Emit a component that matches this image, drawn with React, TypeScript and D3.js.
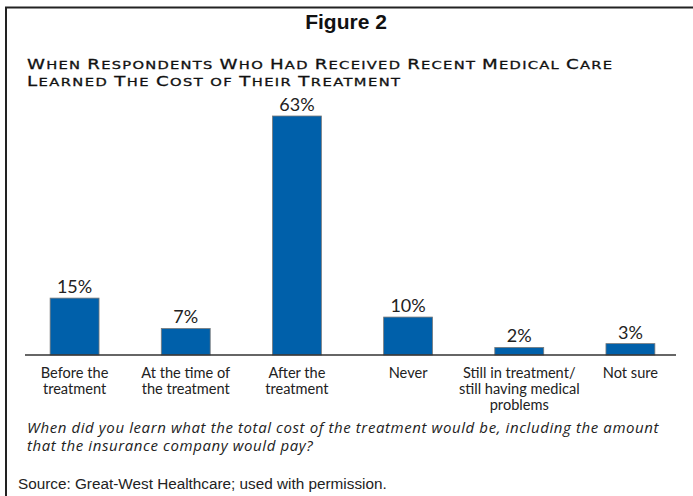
import React from "react";
import * as d3 from "d3";

const categories: string[][] = [
  ["Before the", "treatment"],
  ["At the time of", "the treatment"],
  ["After the", "treatment"],
  ["Never"],
  ["Still in treatment/", "still having medical", "problems"],
  ["Not sure"],
];
const values: number[] = [15, 7, 63, 10, 2, 3];
const valueLabels: string[] = ["15%", "7%", "63%", "10%", "2%", "3%"];
const subtitleLines: string[] = [
  "When Respondents Who Had Received Recent Medical Care",
  "Learned The Cost of Their Treatment",
];
const questionLines: string[] = [
  "When did you learn what the total cost of the treatment would be, including the amount",
  "that the insurance company would pay?",
];

const W = 693;
const H = 496;
const baseY = 355;

function smallCaps(s: string, big: number, small: number) {
  const out: React.ReactNode[] = [];
  let buf = "";
  let bufBig = false;
  const flush = (k: number) => {
    if (buf) {
      out.push(
        <tspan key={k} fontSize={bufBig ? big : small}>
          {buf.toUpperCase()}
        </tspan>
      );
    }
    buf = "";
  };
  for (let i = 0; i < s.length; i++) {
    const c = s[i];
    const isBig = c !== " " && c === c.toUpperCase() && c !== c.toLowerCase();
    const kind = c === " " ? bufBig : isBig;
    if (buf && kind !== bufBig) flush(i);
    bufBig = kind;
    buf += c;
  }
  flush(s.length + 1);
  return out;
}

const SX = 1.3;

export default function App() {
  const x = d3
    .scaleBand<number>()
    .domain(values.map((_, i) => i))
    .range([19, 686])
    .paddingInner(0.56)
    .paddingOuter(0.28);
  const y = d3.scaleLinear().domain([0, 63]).range([baseY, 116]);
  const labelFont = "Lato, 'Open Sans', sans-serif";

  return (
    <svg
      width={W}
      height={H}
      style={{ position: "absolute", left: 0, top: 0, background: "#fff", display: "block" }}
    >
      <rect x={0} y={0} width={W} height={H} fill="#fff" />
      {/* frame */}
      <line x1={5} y1={7.5} x2={W} y2={7.5} stroke="#222" strokeWidth={2} />
      <line x1={6} y1={7} x2={6} y2={H} stroke="#222" strokeWidth={2} />

      <text
        x={346}
        y={29}
        textAnchor="middle"
        fontFamily="'Liberation Sans', Arial, sans-serif"
        fontWeight="bold"
        fontSize={21}
        fill="#111"
      >
        Figure 2
      </text>

      <g transform={`scale(${SX},1)`}>
        <text
          x={27 / SX}
          y={69}
          fontFamily="'DejaVu Sans', sans-serif"
          fill="#111"
          textLength={585 / SX}
          lengthAdjust="spacing"
          stroke="#111"
          strokeWidth={0.3}
        >
          {smallCaps(subtitleLines[0], 14, 11.3)}
        </text>
        <text
          x={27 / SX}
          y={86}
          fontFamily="'DejaVu Sans', sans-serif"
          fill="#111"
          textLength={373 / SX}
          lengthAdjust="spacing"
          stroke="#111"
          strokeWidth={0.3}
        >
          {smallCaps(subtitleLines[1], 14, 11.3)}
        </text>
      </g>

      {values.map((v, i) => (
        <g key={i}>
          <rect
            x={x(i)!}
            y={y(v)}
            width={x.bandwidth()}
            height={baseY - y(v)}
            fill="#0060AA"
            stroke="#7a7a7a"
            strokeWidth={0.8}
          />
          <text
            x={x(i)! + x.bandwidth() / 2}
            y={y(v) - 5}
            textAnchor="middle"
            fontFamily={labelFont}
            fontSize={18}
            fill="#222"
          >
            {valueLabels[i]}
          </text>
          <text
            textAnchor="middle"
            fontFamily={labelFont}
            fontSize={14.6}
            fill="#222"
          >
            {categories[i].map((line, j) => (
              <tspan key={j} x={x(i)! + x.bandwidth() / 2} y={378 + j * 16}>
                {line}
              </tspan>
            ))}
          </text>
        </g>
      ))}

      <line x1={25} y1={baseY} x2={676} y2={baseY} stroke="#333" strokeWidth={1.5} />

      <text
        fontFamily="'Open Sans', sans-serif"
        fontSize={15}
        fontStyle="italic"
        fill="#222"
        style={{ letterSpacing: "0.6px" }}
      >
        {questionLines.map((line, j) => (
          <tspan key={j} x={27} y={433 + j * 18}>
            {line}
          </tspan>
        ))}
      </text>

      <text
        x={18}
        y={489}
        fontFamily="'Liberation Sans', Arial, sans-serif"
        fontSize={15.3}
        fill="#222"
      >
        Source: Great-West Healthcare; used with permission.
      </text>
    </svg>
  );
}
